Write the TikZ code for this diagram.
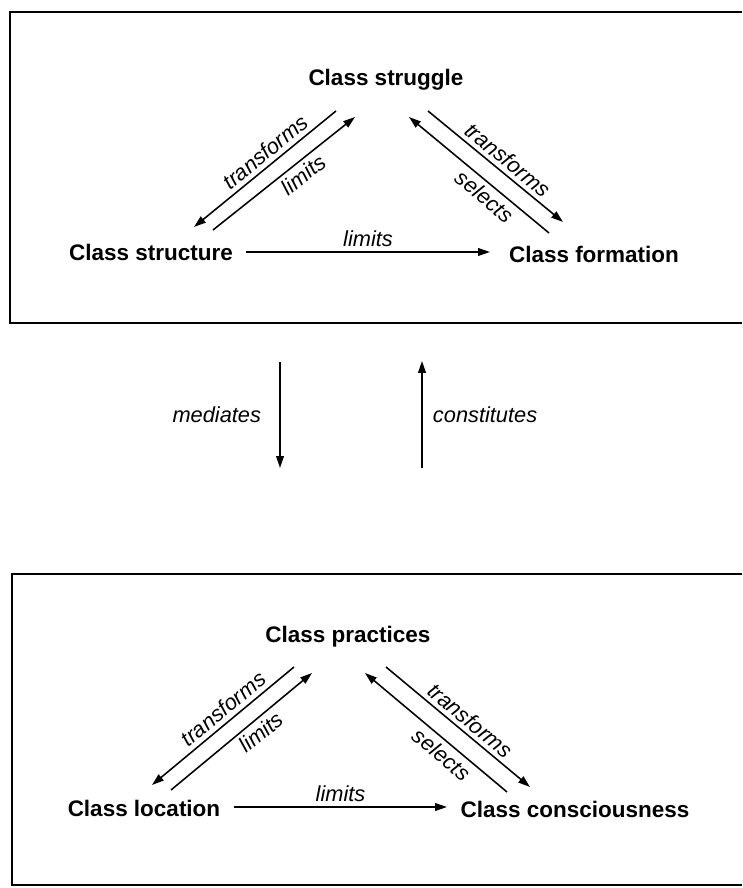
\documentclass[tikz,border=0pt]{standalone}
\usepackage{fontspec}
\setmainfont{Liberation Sans}
\usetikzlibrary{arrows.meta}

\begin{document}
\begin{tikzpicture}[
  >={Triangle[length=8.5pt,width=5.5pt]},
  caja/.style={line width=1.4pt},
  flecha/.style={->,line width=1.1pt},
  clase/.style={font=\fontsize{16}{19}\selectfont\bfseries, inner sep=0pt},
  verbo/.style={font=\fontsize{15.5}{18}\selectfont\itshape, inner sep=3pt}
]
\useasboundingbox (0,0) rectangle (18.55,22.2);
\def\xa{0.25}
\def\xb{18.55}
% caja superior
\draw[caja] (\xb,21.9) -- (\xa,21.9) -- (\xa,14.125) -- (\xb,14.125);
\node[clase] (struggle) at (9.65,20.2) {Class struggle};
\node[clase] (structure) at (3.775,15.9) {Class structure};
\node[clase] (formation) at (14.85,15.85) {Class formation};
\draw[flecha] ([shift={(-1.25,-0.775)}]struggle.center) -- ([shift={(1.075,0.625)}]structure.center)
  node[verbo, sloped, above, pos=0.44] {transforms};
\draw[flecha] ([shift={(1.55,0.55)}]structure.center) -- ([shift={(-0.775,-0.925)}]struggle.center)
  node[verbo, sloped, below, pos=0.58] {limits};
\draw[flecha] ([shift={(-1.125,0.525)}]formation.center) -- ([shift={(0.575,-0.925)}]struggle.center)
  node[verbo, sloped, below, pos=0.4] {selects};
\draw[flecha] ([shift={(1.05,-0.775)}]struggle.center) -- ([shift={(-0.775,0.8)}]formation.center)
  node[verbo, sloped, above, pos=0.53] {transforms};
\draw[flecha] ([shift={(2.375,0)}]structure.center) -- ([shift={(-2.6,0.05)}]formation.center)
  node[verbo, above, midway] {limits};
% flechas entre cajas
\coordinate (medtop) at (7.0,13.15);
\coordinate (medbot) at (7.0,10.5);
\coordinate (contop) at (10.55,13.175);
\coordinate (conbot) at (10.55,10.5);
\draw[flecha] (medtop) -- (medbot) node[verbo, midway, left=0.35cm] {mediates};
\draw[flecha] (conbot) -- (contop) node[verbo, midway, right=0.15cm] {constitutes};
% caja inferior
\draw[caja] (\xb,7.85) -- (0.3,7.85) -- (0.3,0.075) -- (\xb,0.075);
\node[clase] (practices) at (8.7,6.275) {Class practices};
\node[clase] (location) at (3.6,2.0) {Class location};
\node[clase] (consciousness) at (14.375,1.975) {Class consciousness};
\draw[flecha] ([shift={(-1.35,-0.75)}]practices.center) -- ([shift={(0.2,0.575)}]location.center)
  node[verbo, sloped, above, pos=0.44] {transforms};
\draw[flecha] ([shift={(0.675,0.45)}]location.center) -- ([shift={(-0.9,-0.9)}]practices.center)
  node[verbo, sloped, below, pos=0.58] {limits};
\draw[flecha] ([shift={(-1.7,0.425)}]consciousness.center) -- ([shift={(0.425,-0.9)}]practices.center)
  node[verbo, sloped, below, pos=0.4] {selects};
\draw[flecha] ([shift={(0.95,-0.75)}]practices.center) -- ([shift={(-1.125,0.55)}]consciousness.center)
  node[verbo, sloped, above, pos=0.53] {transforms};
\draw[flecha] ([shift={(2.25,0.025)}]location.center) -- ([shift={(-3.2,0.05)}]consciousness.center)
  node[verbo, above, midway] {limits};
\end{tikzpicture}
\end{document}
